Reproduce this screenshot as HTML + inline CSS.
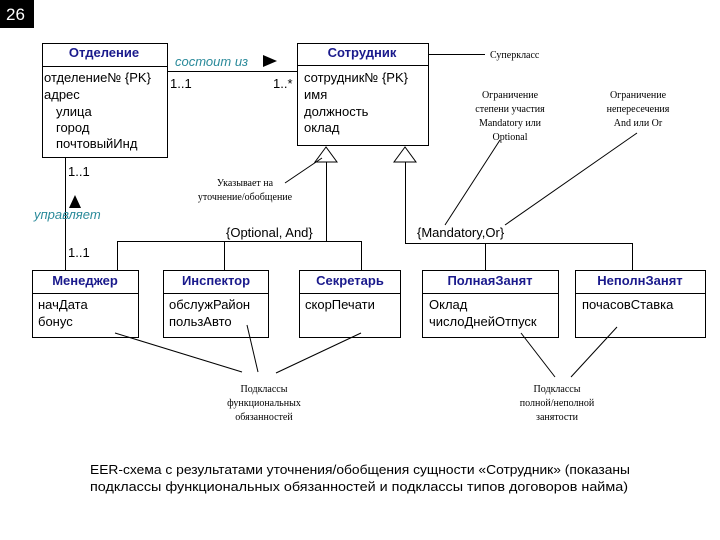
<!DOCTYPE html>
<html><head><meta charset="utf-8"><style>
html,body{margin:0;padding:0;background:#fff;width:720px;height:540px;overflow:hidden}
svg{display:block}
.a{font-family:"Liberation Sans",sans-serif;font-size:13px;fill:#000}
.h{font-family:"Liberation Sans",sans-serif;font-size:13px;font-weight:bold;fill:#1a1a8c}
.s{font-family:"Liberation Serif",serif;font-size:10px;fill:#000}
.i{font-family:"Liberation Sans",sans-serif;font-size:13px;font-style:italic;fill:#2a8a9a}
</style></head><body>
<svg width="720" height="540" viewBox="0 0 720 540" xmlns="http://www.w3.org/2000/svg">
<rect x="0" y="0" width="34" height="28" fill="#000"/>
<text x="6" y="20" font-family="Liberation Sans" font-size="17" fill="#fff">26</text>
<g fill="none" stroke="#000" stroke-width="1">
<rect x="42.5" y="43.5" width="125" height="114"/>
<line x1="42" y1="66.5" x2="167" y2="66.5"/>
<rect x="297.5" y="43.5" width="131" height="102"/>
<line x1="297" y1="65.5" x2="428" y2="65.5"/>
<line x1="167" y1="71.5" x2="297" y2="71.5"/>
<line x1="428" y1="54.5" x2="485" y2="54.5"/>
<line x1="65.5" y1="157" x2="65.5" y2="270"/>
<polygon points="326,147 315,162 337,162" fill="#fff"/>
<polygon points="405,147 394,162 416,162" fill="#fff"/>
<polyline points="326.5,162 326.5,241.5 117.5,241.5 117.5,270"/>
<line x1="326" y1="241.5" x2="361" y2="241.5"/>
<line x1="224.5" y1="241" x2="224.5" y2="270"/>
<line x1="361.5" y1="241" x2="361.5" y2="270"/>
<polyline points="405.5,162 405.5,243.5 632.5,243.5 632.5,270"/>
<line x1="485.5" y1="243" x2="485.5" y2="270"/>
<line x1="285" y1="183" x2="322" y2="158"/>
<line x1="500" y1="140" x2="445" y2="225"/>
<line x1="637" y1="133" x2="505" y2="225"/>
<rect x="32.5" y="270.5" width="106" height="67"/><line x1="32" y1="293.5" x2="138" y2="293.5"/>
<rect x="163.5" y="270.5" width="105" height="67"/><line x1="163" y1="293.5" x2="268" y2="293.5"/>
<rect x="299.5" y="270.5" width="101" height="67"/><line x1="299" y1="293.5" x2="400" y2="293.5"/>
<rect x="422.5" y="270.5" width="136" height="67"/><line x1="422" y1="293.5" x2="558" y2="293.5"/>
<rect x="575.5" y="270.5" width="130" height="67"/><line x1="575" y1="293.5" x2="705" y2="293.5"/>
<line x1="115" y1="333" x2="242" y2="372"/>
<line x1="247" y1="325" x2="258" y2="372"/>
<line x1="361" y1="333" x2="276" y2="373"/>
<line x1="521" y1="333" x2="555" y2="377"/>
<line x1="617" y1="327" x2="571" y2="377"/>
</g>
<polygon points="263,55 277,61 263,67" fill="#000"/>
<polygon points="75,195 69,208 81,208" fill="#000"/>
<text class="h" x="104" y="57" text-anchor="middle">Отделение</text>
<text class="h" x="362" y="57" text-anchor="middle">Сотрудник</text>
<text class="a" x="44" y="82">отделение№ {PK}</text>
<text class="a" x="44" y="99">адрес</text>
<text class="a" x="56" y="116">улица</text>
<text class="a" x="56" y="132">город</text>
<text class="a" x="56" y="148">почтовыйИнд</text>
<text class="a" x="304" y="82">сотрудник№ {PK}</text>
<text class="a" x="304" y="99">имя</text>
<text class="a" x="304" y="116">должность</text>
<text class="a" x="304" y="132">оклад</text>
<text class="i" x="175" y="66">состоит из</text>
<text class="a" x="170" y="88">1..1</text>
<text class="a" x="273" y="88">1..*</text>
<text class="a" x="68" y="176">1..1</text>
<text class="i" x="34" y="219">управляет</text>
<text class="a" x="68" y="257">1..1</text>
<text class="s" x="490" y="58">Суперкласс</text>
<text class="s" x="510" y="98" text-anchor="middle">Ограничение</text>
<text class="s" x="510" y="112" text-anchor="middle">степени участия</text>
<text class="s" x="510" y="126" text-anchor="middle">Mandatory или</text>
<text class="s" x="510" y="140" text-anchor="middle">Optional</text>
<text class="s" x="638" y="98" text-anchor="middle">Ограничение</text>
<text class="s" x="638" y="112" text-anchor="middle">непересечения</text>
<text class="s" x="638" y="126" text-anchor="middle">And или Or</text>
<text class="s" x="245" y="186" text-anchor="middle">Указывает на</text>
<text class="s" x="245" y="200" text-anchor="middle">уточнение/обобщение</text>
<text class="a" x="226" y="237">{Optional, And}</text>
<text class="a" x="417" y="237">{Mandatory,Or}</text>
<text class="h" x="85" y="285" text-anchor="middle">Менеджер</text>
<text class="h" x="216" y="285" text-anchor="middle">Инспектор</text>
<text class="h" x="350" y="285" text-anchor="middle">Секретарь</text>
<text class="h" x="490" y="285" text-anchor="middle">ПолнаяЗанят</text>
<text class="h" x="640" y="285" text-anchor="middle">НеполнЗанят</text>
<text class="a" x="38" y="309">начДата</text>
<text class="a" x="38" y="326">бонус</text>
<text class="a" x="169" y="309">обслужРайон</text>
<text class="a" x="169" y="326">пользАвто</text>
<text class="a" x="305" y="309">скорПечати</text>
<text class="a" x="429" y="309">Оклад</text>
<text class="a" x="429" y="326">числоДнейОтпуск</text>
<text class="a" x="582" y="309">почасовСтавка</text>
<text class="s" x="264" y="392" text-anchor="middle">Подклассы</text>
<text class="s" x="264" y="406" text-anchor="middle">функциональных</text>
<text class="s" x="264" y="420" text-anchor="middle">обязанностей</text>
<text class="s" x="557" y="392" text-anchor="middle">Подклассы</text>
<text class="s" x="557" y="406" text-anchor="middle">полной/неполной</text>
<text class="s" x="557" y="420" text-anchor="middle">занятости</text>
<text class="a" x="90" y="474" textLength="540" lengthAdjust="spacingAndGlyphs">EER-схема с результатами уточнения/обобщения сущности «Сотрудник» (показаны</text>
<text class="a" x="90" y="491" textLength="538" lengthAdjust="spacingAndGlyphs">подклассы функциональных обязанностей и подклассы типов договоров найма)</text>
</svg>
</body></html>
